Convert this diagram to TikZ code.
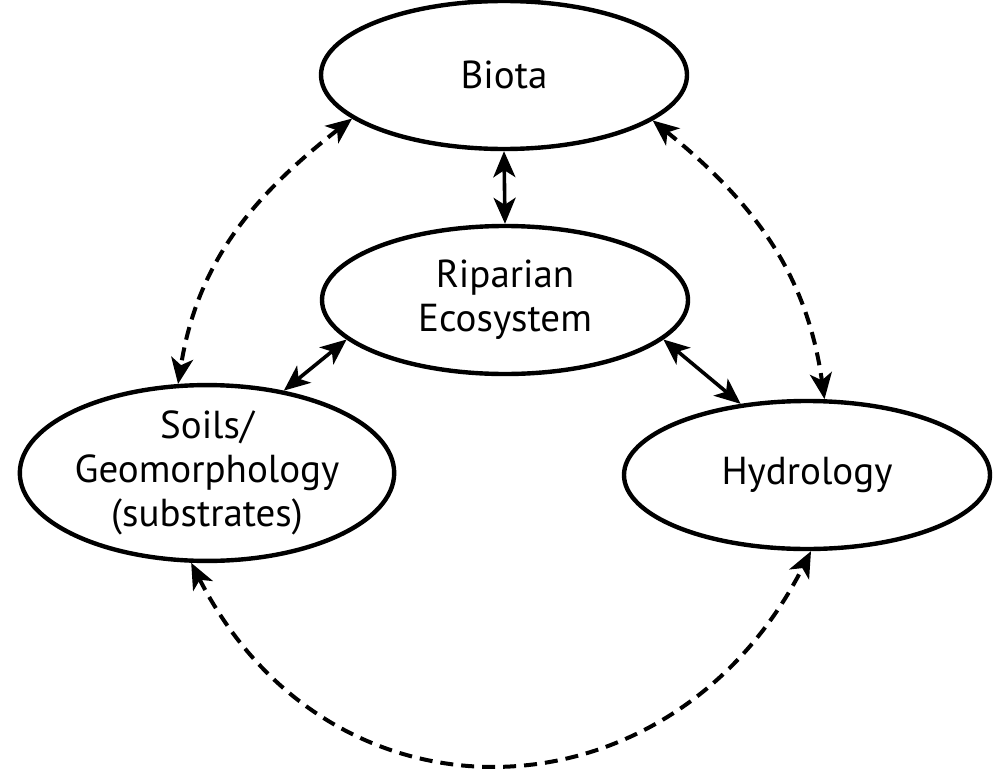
\documentclass[tikz,border=0pt]{standalone}
\usepackage{fontspec}
\setmainfont{PT Sans}
\usetikzlibrary{shapes.geometric,arrows.meta}
\begin{document}
\begin{tikzpicture}[x=1pt,y=-1pt,
  blob/.style={ellipse,draw,line width=4.4pt,minimum width=366pt,minimum height=148pt,inner sep=0pt,align=center,font=\fontsize{39}{44}\selectfont},
  solidlink/.style={line width=3.6pt,{Stealth[length=26pt,width=22pt,inset=7pt]}-{Stealth[length=26pt,width=22pt,inset=7pt]}},
  dashlink/.style={line width=4pt,dash pattern=on 13pt off 8pt,{Stealth[length=26pt,width=22pt,inset=7pt]}-{Stealth[length=26pt,width=22pt,inset=7pt]}}]
\useasboundingbox (0,0) rectangle (1001,776);
\node[blob] (biota) at (504,75) {Biota};
\node[blob] (rip) at (505,300) {Riparian\\Ecosystem};
\node[blob] (soil) at (207,473) {Soils/\\Geomorphology\\(substrates)};
\node[blob] (hydro) at (807,475) {Hydrology};
\draw[solidlink] (biota.south) -- (rip.north);
\draw[solidlink] (rip.194) -- (soil.47);
\draw[solidlink] (rip.346) -- (hydro.133);
\draw[dashlink] (biota.196) to[out=218,in=81] (soil.108);
\draw[dashlink] (biota.343) to[out=321,in=98] (hydro.77);
\draw[dashlink] (soil.260) to[out=297,in=243,looseness=1.27] (hydro.273);
\end{tikzpicture}
\end{document}
